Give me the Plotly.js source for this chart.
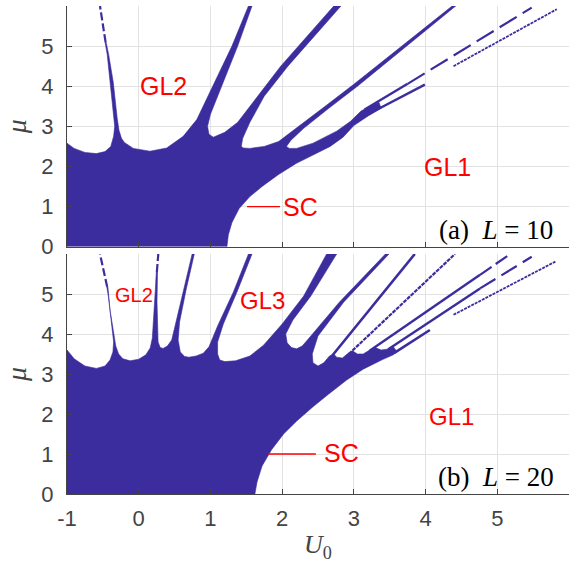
<!DOCTYPE html>
<html>
<head>
<meta charset="utf-8">
<script src="https://cdn.plot.ly/plotly-3.0.1.min.js"></script>
<style>html,body{margin:0;padding:0;background:#fff;}#chart{width:572px;height:567px;}</style>
</head>
<body>
<div id="chart"></div>
<script>
// ---------- data ----------
const xTicks = [-1, 0, 1, 2, 3, 4, 5];
const xTickText = ['-1', '0', '1', '2', '3', '4', '5'];
const yTicks = [0, 1, 2, 3, 4, 5];

// Panel (a) L = 10 : boundary of the blue region [U0, mu]
const a_main = [[-1,0],[-1,2.58],[-0.9,2.45],[-0.75,2.35],[-0.59,2.32],[-0.47,2.37],[-0.39,2.5],[-0.35,2.75],[-0.335,3.0],[-0.37,3.6],[-0.40,4.1],[-0.44,4.8],[-0.47,5.1],[-0.455,5.1],[-0.42,4.8],[-0.355,4.1],[-0.30,3.2],[-0.275,2.9],[-0.24,2.7],[-0.2,2.6],[-0.075,2.45],[0.157,2.38],[0.39,2.46],[0.62,2.75],[0.81,3.17],[1.02,3.95],[1.30,5.0],[1.53,6.0],[1.58,6.0],[1.38,5.0],[1.16,4.0],[1.0,3.3],[0.96,3.0],[0.98,2.8],[1.04,2.73],[1.2,2.85],[1.38,3.1],[1.62,3.65],[1.98,4.5],[2.72,6.0],[2.82,6.0],[2.08,4.5],[1.75,3.75],[1.55,3.1],[1.45,2.7],[1.43,2.5],[1.46,2.46],[1.55,2.45],[1.75,2.5],[1.95,2.62],[2.2,2.95],[2.6,3.5],[3.0,4.05],[3.46,4.7],[4.37,6.0],[4.42,6.0],[3.51,4.66],[3.05,4.0],[2.65,3.45],[2.3,2.95],[2.12,2.65],[2.06,2.5],[2.1,2.45],[2.2,2.45],[2.43,2.58],[2.76,2.88],[2.95,3.12],[3.1,3.38],[3.2,3.48],[3.35,3.6],[3.38,3.45],[3.2,3.26],[3.0,3.02],[2.85,2.73],[2.67,2.5],[2.45,2.3],[2.2,2.08],[1.95,1.8],[1.72,1.5],[1.55,1.25],[1.4,0.95],[1.3,0.6],[1.25,0.3],[1.23,0]];
const a_f1tip = [[-0.462,5.1],[-0.54,6.0]];
const a_l5solid = [[3.15,3.42],[3.75,4.06]];
const a_l5dash = [[3.75,4.06],[5.48,5.96]];
const a_l6 = [[3.2,3.3],[3.99,4.04]];
const a_l8 = [[4.39,4.5],[5.83,5.92]];
const a_sc = [[1.51,1],[1.97,1]];

// Panel (b) L = 20
const b_main = [[-1,0],[-1,3.6],[-0.9,3.38],[-0.75,3.2],[-0.59,3.14],[-0.47,3.2],[-0.40,3.35],[-0.36,3.55],[-0.35,3.8],[-0.38,4.3],[-0.42,4.9],[-0.445,5.18],[-0.43,5.18],[-0.40,4.6],[-0.35,4.0],[-0.32,3.7],[-0.28,3.5],[-0.22,3.38],[-0.12,3.33],[0.0,3.37],[0.1,3.48],[0.16,3.65],[0.19,3.9],[0.215,4.5],[0.235,5.2],[0.245,5.55],[0.262,5.55],[0.255,4.8],[0.26,4.2],[0.27,3.8],[0.3,3.66],[0.34,3.64],[0.4,3.7],[0.46,3.85],[0.52,4.3],[0.63,5.1],[0.745,6.0],[0.775,6.0],[0.66,5.1],[0.57,4.3],[0.55,3.85],[0.58,3.55],[0.64,3.44],[0.7,3.42],[0.8,3.45],[0.9,3.52],[0.98,3.68],[1.1,4.2],[1.32,5.05],[1.53,6.0],[1.58,6.0],[1.37,5.05],[1.18,4.25],[1.1,3.8],[1.1,3.5],[1.13,3.35],[1.2,3.31],[1.35,3.33],[1.55,3.45],[1.74,3.72],[2.0,4.25],[2.3,4.95],[2.62,6.0],[2.76,6.0],[2.4,4.95],[2.15,4.35],[2.05,4.0],[2.07,3.78],[2.13,3.66],[2.2,3.63],[2.28,3.7],[2.4,3.95],[2.8,4.8],[3.44,6.0],[3.49,6.0],[2.86,4.8],[2.5,3.95],[2.42,3.5],[2.43,3.28],[2.5,3.2],[2.58,3.28],[2.66,3.45],[2.72,3.5],[2.76,3.42],[2.84,3.4],[2.92,3.52],[2.98,3.58],[3.05,3.5],[3.13,3.5],[3.22,3.6],[3.3,3.66],[3.38,3.6],[3.46,3.62],[3.55,3.68],[3.6,3.56],[3.55,3.48],[3.4,3.36],[3.13,3.12],[2.9,2.85],[2.65,2.5],[2.43,2.18],[2.2,1.82],[2.02,1.5],[1.85,1.1],[1.72,0.7],[1.65,0.3],[1.62,0]];
const b_f1tip = [[-0.44,5.18],[-0.54,6.0]];
const b_f2tip = [[0.253,5.55],[0.273,6.0]];
const b_f7 = [[2.68,3.42],[3.85,6.0]];
const b_f8 = [[2.93,3.5],[4.41,6.0]];
const b_f9solid = [[3.22,3.58],[4.76,5.48]];
const b_f9dash = [[4.76,5.48],[5.18,6.0]];
const b_f10solid = [[3.48,3.62],[4.76,5.14]];
const b_f10dash = [[4.76,5.14],[5.48,5.93]];
const b_f11 = [[3.56,3.52],[4.06,4.1]];
const b_f12 = [[4.39,4.48],[5.81,5.81]];
const b_sc = [[1.80,1],[2.47,1]];

// ---------- drawing ----------
const BLUE = '#3b2d9e';
const RED = '#ff0000';
const AX = '#444444';

function poly(pts, xa, ya) {
  return {type:'scatter', mode:'lines', x: pts.map(p=>p[0]), y: pts.map(p=>p[1]),
    xaxis: xa, yaxis: ya, fill:'toself', fillcolor: BLUE,
    line:{color: BLUE, width: 0.6}, hoverinfo:'skip', showlegend:false};
}
function seg(pts, xa, ya, width, dash, color) {
  return {type:'scatter', mode:'lines', x: pts.map(p=>p[0]), y: pts.map(p=>p[1]),
    xaxis: xa, yaxis: ya, line:{color: color || BLUE, width: width, dash: dash || 'solid'},
    hoverinfo:'skip', showlegend:false};
}

const traces = [
  poly(a_main, 'x', 'y'),
  seg(a_f1tip, 'x', 'y', 2.2, '8px,3px'),
  seg(a_l5solid, 'x', 'y', 2.4),
  seg(a_l5dash, 'x', 'y', 2.2, '20px,7px'),
  seg(a_l6, 'x', 'y', 2.4),
  seg(a_l8, 'x', 'y', 1.8, '3px,1px'),
  seg(a_sc, 'x', 'y', 1.3, 'solid', RED),

  poly(b_main, 'x2', 'y2'),
  seg(b_f1tip, 'x2', 'y2', 2.2, '8px,3px'),
  seg(b_f2tip, 'x2', 'y2', 2.2, '8px,3px'),
  seg(b_f7, 'x2', 'y2', 2.6),
  seg(b_f8, 'x2', 'y2', 2.2, '4px,1px'),
  seg(b_f9solid, 'x2', 'y2', 2.4),
  seg(b_f9dash, 'x2', 'y2', 2.2, '14px,5px'),
  seg(b_f10solid, 'x2', 'y2', 2.4),
  seg(b_f10dash, 'x2', 'y2', 2.2, '18px,7px'),
  seg(b_f11, 'x2', 'y2', 2.6),
  seg(b_f12, 'x2', 'y2', 1.8, '3px,1px'),
  seg(b_sc, 'x2', 'y2', 1.3, 'solid', RED)
];

const sans = 'Liberation Sans, Arial, sans-serif';
const serif = 'Liberation Serif, Times New Roman, serif';
const tickFont = {family:sans, size:22, color:AX};
function xax(anchor, labels, title) {
  const ax = {domain:[0,1], anchor: anchor, range:[-1,6], tickmode:'array', tickvals:xTicks, ticktext:xTickText,
    showticklabels: labels, ticks:'inside', ticklen:5, tickwidth:1, tickcolor:AX,
    showline:true, linecolor:AX, linewidth:1, showgrid:true, gridcolor:'#e2e2e2', gridwidth:1,
    zeroline:false, tickfont:tickFont, ticklabelstandoff:5, fixedrange:true};
  if (title) ax.title = {text:title, font:{family:serif, size:26, color:AX}, standoff:4};
  return ax;
}
function yax(anchor, domain) {
  return {domain: domain, anchor: anchor, range:[0,6], tickmode:'array', tickvals:yTicks,
    ticks:'inside', ticklen:5, tickwidth:1, tickcolor:AX,
    showline:true, linecolor:AX, linewidth:1, showgrid:true, gridcolor:'#e2e2e2', gridwidth:1,
    zeroline:false, tickfont:tickFont, ticklabelstandoff:8, fixedrange:true,
    title:{text:'<i>μ</i>', font:{family:serif, size:28, color:AX}, standoff:6}};
}

function lab(text, x, y, xr, yr, size, anchor) {
  return {text:text, x:x, y:y, xref:xr, yref:yr, showarrow:false,
    xanchor: anchor || 'center', yanchor:'middle', font:{family:sans, size:size, color:RED}};
}

const annotations = [
  lab('GL2', 0.348, 4.0, 'x', 'y', 25),
  lab('GL1', 4.31, 1.99, 'x', 'y', 25),
  lab('SC', 1.99, 1.0, 'x', 'y', 25, 'left'),
  {text:'(a)&nbsp; <i>L</i>&nbsp;=&nbsp;10', x:5.8, y:0.42, xref:'x', yref:'y', showarrow:false, xanchor:'right', yanchor:'middle',
   font:{family:serif, size:27, color:'#000'}},
  lab('GL2', -0.066, 4.97, 'x2', 'y2', 20),
  lab('GL3', 1.72, 4.83, 'x2', 'y2', 24),
  lab('GL1', 4.365, 1.93, 'x2', 'y2', 24),
  lab('SC', 2.55, 1.02, 'x2', 'y2', 25, 'left'),
  {text:'(b)&nbsp; <i>L</i>&nbsp;=&nbsp;20', x:5.82, y:0.43, xref:'x2', yref:'y2', showarrow:false, xanchor:'right', yanchor:'middle',
   font:{family:serif, size:27, color:'#000'}}
];

const layout = {
  width:572, height:567,
  margin:{l:67, r:3, t:6, b:73},
  paper_bgcolor:'#fff', plot_bgcolor:'#fff',
  showlegend:false,
  xaxis: xax('y', false, ''),
  yaxis: yax('x', [0.5068, 1]),
  xaxis2: xax('y2', true, '<i>U</i><sub>0</sub>'),
  yaxis2: yax('x2', [0, 0.4918]),
  annotations: annotations
};

Plotly.newPlot('chart', traces, layout, {staticPlot:true, displayModeBar:false});
</script>
</body>
</html>
